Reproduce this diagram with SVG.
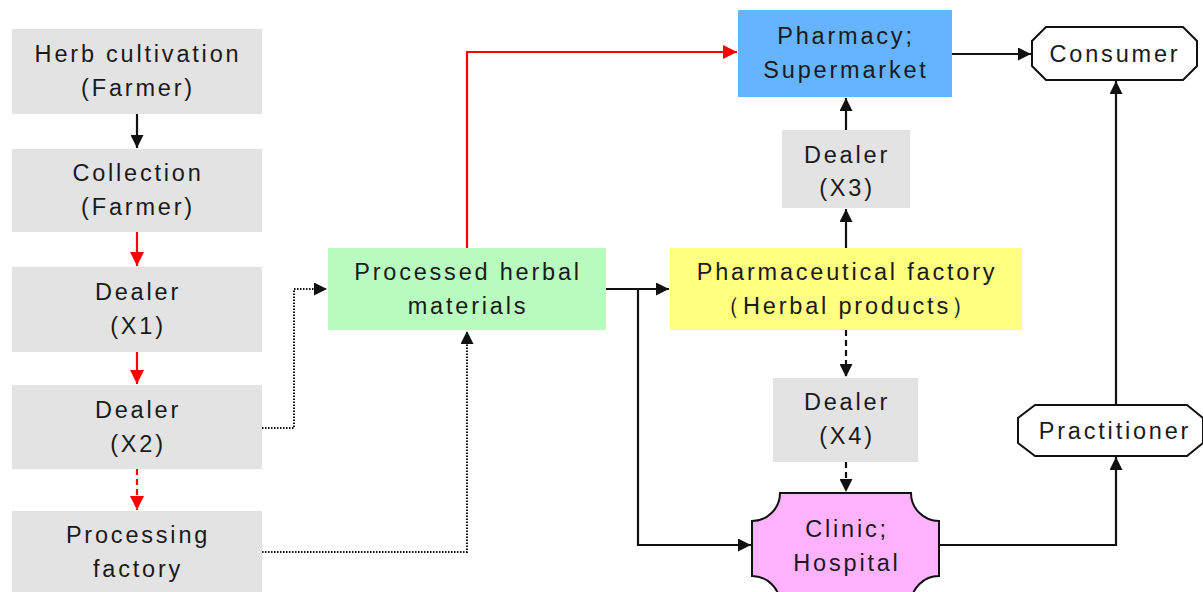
<svg xmlns="http://www.w3.org/2000/svg" width="1203" height="592" viewBox="0 0 1203 592">
<style>
text{font-family:"Liberation Sans",Arial,sans-serif;font-size:23.5px;letter-spacing:2.8px;fill:#1a1a1a;text-anchor:middle}
.gray{fill:#e3e3e3}
.ln{fill:none;stroke:#111;stroke-width:2.2}
.red{fill:none;stroke:#f00;stroke-width:2.2}
.dot{fill:none;stroke:#111;stroke-width:2;stroke-dasharray:1.5 1.5}
.dash{fill:none;stroke:#111;stroke-width:2.2;stroke-dasharray:6 4}
.rdash{fill:none;stroke:#f00;stroke-width:2.2;stroke-dasharray:6 4}
</style>
<defs>
<marker id="ab" viewBox="0 0 10 10" refX="10" refY="5" markerWidth="13" markerHeight="13" markerUnits="userSpaceOnUse" orient="auto"><path d="M0,0L10,5L0,10z" fill="#111"/></marker>
<marker id="ar" viewBox="0 0 10 10" refX="10" refY="5" markerWidth="14" markerHeight="14" markerUnits="userSpaceOnUse" orient="auto"><path d="M0,0L10,5L0,10z" fill="#f00"/></marker>
</defs>
<rect width="1203" height="592" fill="#fff"/>
<g id="herb"><rect class="gray" x="12" y="29" width="250" height="85"/><text x="138" y="62">Herb cultivation</text><text x="138" y="96">(Farmer)</text></g>
<g id="collection"><rect class="gray" x="12" y="149" width="250" height="83"/><text x="138" y="181">Collection</text><text x="138" y="215">(Farmer)</text></g>
<g id="dealer1"><rect class="gray" x="12" y="267" width="250" height="85"/><text x="138" y="300">Dealer</text><text x="138" y="334">(X1)</text></g>
<g id="dealer2"><rect class="gray" x="12" y="385" width="250" height="84"/><text x="138" y="418">Dealer</text><text x="138" y="452">(X2)</text></g>
<g id="processing"><rect class="gray" x="12" y="511" width="250" height="81"/><text x="138" y="543">Processing</text><text x="138" y="577">factory</text></g>
<g id="processed"><rect fill="#b8fcc0" x="328" y="248" width="278" height="82"/><text x="468" y="280">Processed herbal</text><text x="468" y="314">materials</text></g>
<g id="pharmafactory"><rect fill="#ffff80" x="670" y="248" width="352" height="82"/><text x="847" y="280">Pharmaceutical factory</text><text x="847" y="314">（Herbal products）</text></g>
<g id="pharmacy"><rect fill="#66b3ff" x="738" y="10" width="214" height="87"/><text x="846" y="44">Pharmacy;</text><text x="846" y="78">Supermarket</text></g>
<g id="dealer3"><rect class="gray" x="782" y="130" width="128" height="78"/><text x="847" y="163">Dealer</text><text x="847" y="196">(X3)</text></g>
<g id="dealer4"><rect class="gray" x="773" y="378" width="145" height="84"/><text x="847" y="410">Dealer</text><text x="847" y="444">(X4)</text></g>
<g id="clinic"><path d="M780,493H911A28,28 0 0 0 939,521V576A28,28 0 0 0 911,604H780A28,28 0 0 0 752,576V521A28,28 0 0 0 780,493Z" fill="#ffb3ff" stroke="#111" stroke-width="2"/><text x="847" y="537">Clinic;</text><text x="847" y="571">Hospital</text></g>
<g id="consumer"><path d="M1046,27H1183L1197,41V66L1183,80H1046L1032,66V41Z" fill="#fff" stroke="#111" stroke-width="2"/><text x="1115" y="62">Consumer</text></g>
<g id="practitioner"><path d="M1035,405H1187L1203,418V443L1187,456H1035L1018,443V418Z" fill="#fff" stroke="#111" stroke-width="2"/><text x="1115" y="439">Practitioner</text></g>
<g id="connectors">
<path class="ln" d="M137,114V148" marker-end="url(#ab)"/>
<path class="red" d="M137,232V266" marker-end="url(#ar)"/>
<path class="red" d="M137,352V384" marker-end="url(#ar)"/>
<path class="rdash" d="M137,469V510" marker-end="url(#ar)"/>
<path class="dot" d="M262,428H294V289H327" marker-end="url(#ab)"/>
<path class="dot" d="M262,552H467V331" marker-end="url(#ab)"/>
<path class="red" d="M467,248V52H737" marker-end="url(#ar)"/>
<path class="ln" d="M606,289H669" marker-end="url(#ab)"/>
<path class="ln" d="M638,289V545H751" marker-end="url(#ab)"/>
<path class="ln" d="M846,248V209" marker-end="url(#ab)"/>
<path class="ln" d="M846,130V98" marker-end="url(#ab)"/>
<path class="ln" d="M952,54H1031" marker-end="url(#ab)"/>
<path class="dash" d="M846,330V377" marker-end="url(#ab)"/>
<path class="dash" d="M846,462V492" marker-end="url(#ab)"/>
<path class="ln" d="M939,545H1116V457" marker-end="url(#ab)"/>
<path class="ln" d="M1116,405V81" marker-end="url(#ab)"/>
</g>
</svg>
